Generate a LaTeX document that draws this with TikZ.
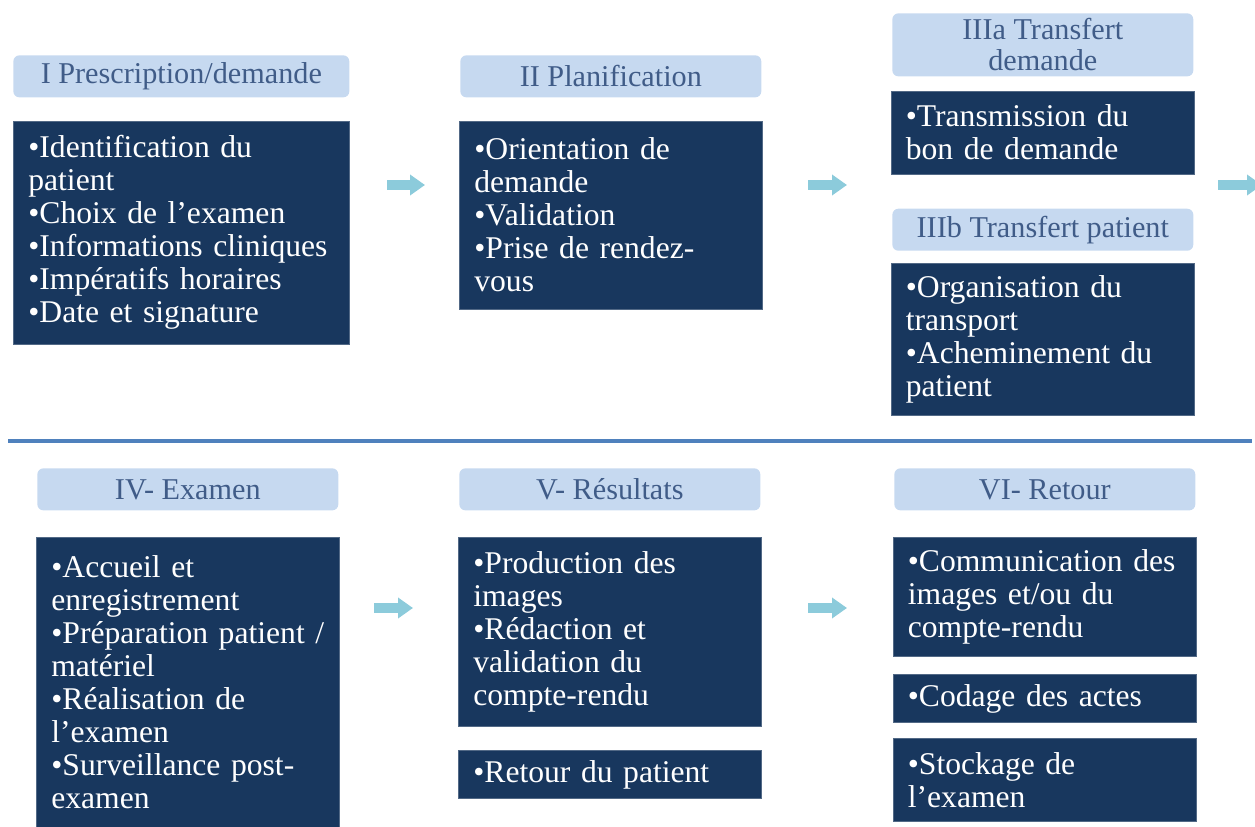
\documentclass[tikz,border=0pt]{standalone}
\usepackage{fontspec}
\setmainfont{Liberation Serif}
\usepackage{tikz}
\usetikzlibrary{arrows.meta,positioning}
\definecolor{hdblue}{RGB}{198,217,240}
\definecolor{hdtext}{RGB}{64,92,136}
\definecolor{boxnavy}{RGB}{24,55,94}
\definecolor{arrowcyan}{RGB}{140,203,219}
\definecolor{sepblue}{RGB}{79,129,189}
\tikzstyle{phase} = [rectangle, rounded corners=0.12cm, fill=hdblue, text=hdtext, minimum height=0.84cm, inner sep=0pt, align=center, font=\fontsize{17.2}{17.6}\selectfont]
\tikzstyle{stepbox} = [rectangle, fill=boxnavy, draw=boxnavy!75!white, line width=0.4pt, text=white, align=left, inner xsep=0.3cm, inner ysep=0pt, font=\fontsize{18}{18.8}\selectfont]
\tikzstyle{flow} = [line width=0.2cm, color=arrowcyan, -{Triangle[length=0.3cm,width=0.4cm]}]

\begin{document}
\begin{tikzpicture}[x=0.02cm, y=-0.02cm]
\clip (0,0) rectangle (1255,827);

% First row
\node (presc) [phase, anchor=north west, minimum width=6.72cm] at (13,55) {I Prescription/demande};
\node (prescbox) [stepbox, below=0.46cm of presc, text width=6.12cm, minimum height=4.46cm] {•Identification du\\patient\\•Choix de l’examen\\•Informations cliniques\\•Impératifs horaires\\•Date et signature};

\node (plan) [phase, anchor=north west, minimum width=6.02cm] at (460,55) {II Planification};
\node (planbox) [stepbox, below=0.46cm of plan, text width=5.46cm, minimum height=3.76cm] {•Orientation de\\demande\\•Validation\\•Prise de rendez-\\vous};

\node (trdem) [phase, anchor=north west, minimum width=6.02cm, minimum height=1.26cm] at (892,13) {IIIa Transfert\\demande};
\node (trdembox) [stepbox, below=0.28cm of trdem, text width=5.48cm, minimum height=1.66cm] {•Transmission du\\bon de demande};
\node (trpat) [phase, below=0.68cm of trdembox, minimum width=6.02cm] {IIIb Transfert patient};
\node (trpatbox) [stepbox, below=0.24cm of trpat, text width=5.48cm, minimum height=3.04cm] {•Organisation du\\transport\\•Acheminement du\\patient};

% Arrows, first row
\coordinate (a1s) at (387,185); \coordinate (a1e) at (425,185);
\coordinate (a2s) at (808,185); \coordinate (a2e) at (847,185);
\coordinate (a3s) at (1218,185); \coordinate (a3e) at (1262,185);
\draw[flow] (a1s) -- (a1e);
\draw[flow] (a2s) -- (a2e);
\draw[flow] (a3s) -- (a3e);

% Separator
\coordinate (sepl) at (8,441); \coordinate (sepr) at (1252,441);
\draw[line width=0.08cm, sepblue] (sepl) -- (sepr);

% Second row
\node (exam) [phase, anchor=north west, minimum width=6.02cm] at (37,468) {IV- Examen};
\node (exambox) [stepbox, below=0.52cm of exam, text width=5.46cm, minimum height=5.8cm] {•Accueil et\\enregistrement\\•Préparation patient /\\matériel\\•Réalisation de\\l’examen\\•Surveillance post-\\examen};

\node (result) [phase, anchor=north west, minimum width=6.02cm] at (459,468) {V- Résultats};
\node (resultbox) [stepbox, below=0.52cm of result, text width=5.46cm, minimum height=3.78cm] {•Production des\\images\\•Rédaction et\\validation du\\compte-rendu};
\node (retpat) [stepbox, below=0.48cm of resultbox, text width=5.46cm, minimum height=0.96cm] {•Retour du patient};

\node (retour) [phase, anchor=north west, minimum width=6.02cm] at (894,468) {VI- Retour};
\node (retourbox) [stepbox, below=0.52cm of retour, text width=5.48cm, minimum height=2.38cm] {•Communication des\\images et/ou du\\compte-rendu};
\node (codage) [stepbox, below=0.36cm of retourbox, text width=5.48cm, minimum height=0.96cm] {•Codage des actes};
\node (stock) [stepbox, below=0.3cm of codage, text width=5.48cm, minimum height=1.66cm] {•Stockage de\\l’examen};

% Arrows, second row
\coordinate (a4s) at (374,608); \coordinate (a4e) at (413,608);
\coordinate (a5s) at (808,608); \coordinate (a5e) at (847,608);
\draw[flow] (a4s) -- (a4e);
\draw[flow] (a5s) -- (a5e);
\end{tikzpicture}
\end{document}
